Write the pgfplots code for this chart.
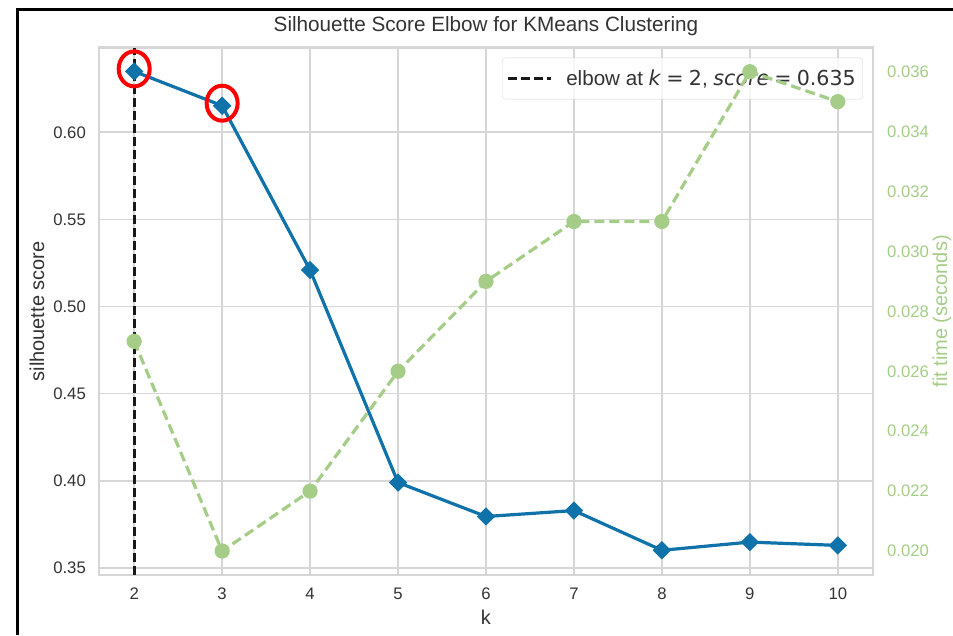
\documentclass[border=0pt]{standalone}
\usepackage{fontspec}
\setmainfont{Liberation Sans}
\newfontfamily\dv{DejaVu Sans}
\usepackage{pgfplots}
\usepackage{pgfplotstable}
\pgfplotsset{compat=1.18}
\definecolor{kblue}{HTML}{0F72A8}
\definecolor{kgreen}{HTML}{A5CD87}
\definecolor{kgrid}{HTML}{D6D6D6}
\definecolor{ktext}{HTML}{333333}
\pgfdeclareplotmark{redring}{\pgfpathellipse{\pgfpointorigin}{\pgfqpoint{15.5pt}{0pt}}{\pgfqpoint{0pt}{17.5pt}}\pgfusepath{stroke}}
\pgfplotstableread{
k score
2 0.635
3 0.6153
4 0.5209
5 0.3989
6 0.3794
7 0.3828
8 0.3600
9 0.3647
10 0.3628
}\scoretab
\pgfplotstableread{
k time
2 0.0270
3 0.0200
4 0.0220
5 0.0260
6 0.0290
7 0.0310
8 0.0310
9 0.0360
10 0.0350
}\timetab
\begin{document}
\begin{tikzpicture}
\useasboundingbox (0,0) rectangle (953pt,-635pt);
\draw[line width=3pt] (17pt,-635pt) -- (17pt,-9pt) -- (953pt,-9pt);
\begin{axis}[
  at={(99pt,-575pt)}, anchor=south west,
  scale only axis, width=774pt, height=527.3pt,
  xmin=1.6, xmax=10.4, ymin=0.3458, ymax=0.6486,
  clip=false,
  xtick={2,3,4,5,6,7,8,9,10},
  ytick={0.35,0.40,0.45,0.50,0.55,0.60},
  major tick length=0pt,
  grid=major,
  grid style={draw=kgrid, line width=1.8pt},
  axis line style={draw=kgrid, line width=2.5pt},
  /pgf/number format/assume math mode=true,
  yticklabel style={/pgf/number format/fixed, /pgf/number format/fixed zerofill, /pgf/number format/precision=2},
  ticklabel style={font=\fontsize{16.7}{20}\selectfont, text=ktext, inner sep=0pt},
  xticklabel style={anchor=base, yshift=-24pt},
  yticklabel style={anchor=east, xshift=-13pt},
  title={Silhouette Score Elbow for KMeans Clustering},
  title style={at={(0.5,1)}, anchor=base, yshift=10.2pt, font=\fontsize{20.7}{24}\selectfont, text=ktext, inner sep=0pt},
  xlabel={k},
  xlabel style={at={([yshift=-49pt]axis description cs:0.5,0)}, anchor=base, font=\fontsize{20}{24}\selectfont, text=ktext, inner sep=0pt},
  ylabel={silhouette score},
  ylabel style={at={([xshift=-62pt]axis description cs:0,0.5)}, anchor=center, font=\fontsize{20}{24}\selectfont, text=ktext, inner sep=0pt},
  legend style={at={(1,1)}, anchor=north east, xshift=-10pt, yshift=-10pt,
    draw=kgrid, rounded corners=3pt, fill=white, fill opacity=0.8, text opacity=1,
    inner xsep=4pt, inner ysep=9pt, nodes={inner sep=3pt},
    font=\fontsize{20.6}{24}\selectfont, text=ktext},
  legend cell align=left,
  legend image code/.code={\draw[#1] (0pt,0pt) -- (43pt,0pt); \path (54pt,0pt);},
]
\addplot[kblue, line width=3.2pt, mark=square*, mark size=4.9pt, mark options={rotate=45, solid}, forget plot] table[x=k, y=score] {\scoretab};
\addplot[only marks, red, line width=4pt, mark=redring, mark options={yshift=2.5pt}, forget plot] coordinates {(2,0.635) (3,0.6153)};
\addplot[black!90, line width=3pt, dash pattern=on 9pt off 4pt] coordinates {(2,0.3458) (2,0.6486)};
\addlegendentry{elbow at {\dv\textit{k}\hspace{0.25em}=\hspace{0.25em}2}, {\dv\textit{score}\hspace{0.25em}=\hspace{0.25em}0.635}}
\end{axis}
\begin{axis}[
  at={(99pt,-575pt)}, anchor=south west,
  scale only axis, width=774pt, height=527.3pt,
  xmin=1.6, xmax=10.4, ymin=0.0192, ymax=0.0368,
  axis x line=none, axis y line*=right,
  axis line style={draw=none},
  ytick={0.020,0.022,0.024,0.026,0.028,0.030,0.032,0.034,0.036},
  scaled y ticks=false,
  major tick length=0pt,
  /pgf/number format/assume math mode=true,
  yticklabel style={/pgf/number format/fixed, /pgf/number format/fixed zerofill, /pgf/number format/precision=3},
  yticklabel style={font=\fontsize{16.7}{20}\selectfont, text=kgreen, inner sep=0pt, anchor=west, xshift=14pt},
  ylabel={fit time (seconds)},
  ylabel style={at={([xshift=69pt]axis description cs:1,0.5)}, anchor=center, font=\fontsize{20}{24}\selectfont, text=kgreen, inner sep=0pt},
]
\addplot[kgreen, line width=3.2pt, dash pattern=on 10pt off 5pt, mark=*, mark size=6pt, mark options={solid, draw=none, fill=kgreen}] table[x=k, y=time] {\timetab};
\end{axis}
\end{tikzpicture}
\end{document}
